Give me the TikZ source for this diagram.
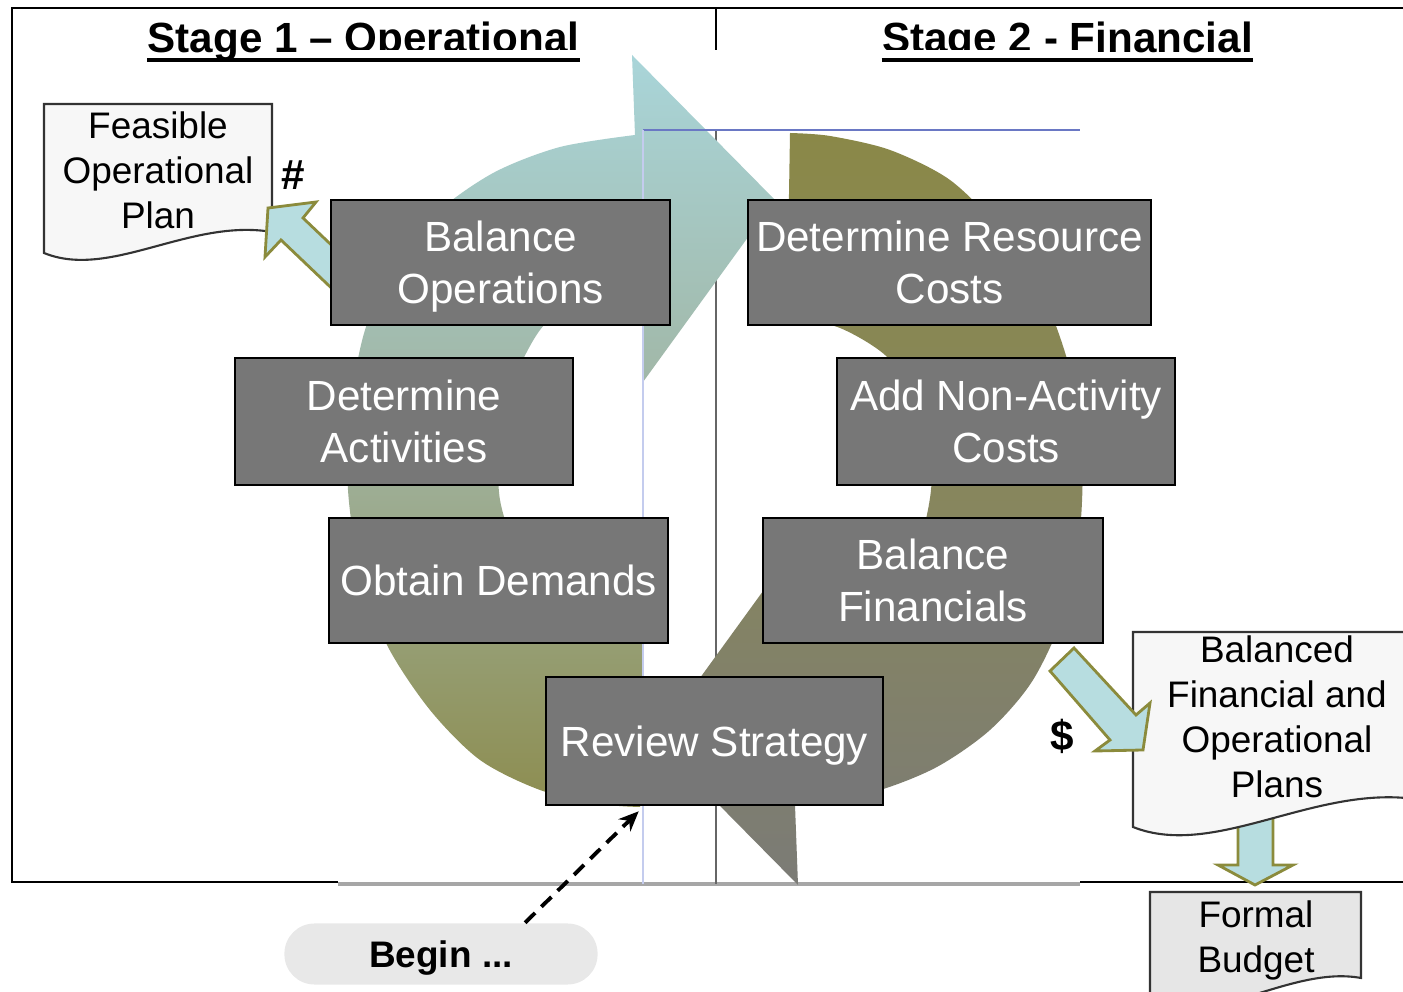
\documentclass[tikz,border=0pt]{standalone}
\usepackage{fontspec}
\setmainfont{Liberation Sans}
\usetikzlibrary{arrows.meta}
\definecolor{task}{HTML}{777777}
\definecolor{plan}{HTML}{F7F7F7}
\definecolor{budget}{HTML}{E6E6E6}
\definecolor{beginbox}{HTML}{E8E8E8}
\definecolor{cyanarc}{HTML}{A9D5D9}
\definecolor{midarc}{HTML}{A0B3A0}
\definecolor{olivearc}{HTML}{8D8D50}
\definecolor{olivetop}{HTML}{8A8848}
\definecolor{olivemid}{HTML}{87865E}
\definecolor{greyarc}{HTML}{7B7B76}
\definecolor{blockarrow}{HTML}{B7DDE0}
\definecolor{blockline}{HTML}{8B8B3C}
\definecolor{picline}{HTML}{6A78C4}
\definecolor{picfaint}{HTML}{C4CCEE}
\tikzset{task/.style={draw=black,line width=0.7pt,fill=task,text=white,align=center,inner sep=0pt,text depth=0pt,minimum height=1.25cm,font=\fontsize{12}{14.8}\selectfont}}
\tikzset{plan/.style={black,align=center,inner sep=0pt,text depth=0pt,font=\fontsize{10.5}{12.8}\selectfont}}
\tikzset{plandoc/.style={draw=black!80,line width=0.6pt,fill=plan}}
\tikzset{blockarrow/.style={draw=blockline,line width=0.8pt,fill=blockarrow}}
\tikzset{stage/.style={anchor=base,inner sep=0pt,font=\fontsize{12}{14}\selectfont\bfseries}}
\tikzset{sign/.style={font=\fontsize{12}{14}\selectfont\bfseries}}
\tikzset{beginbox/.style={fill=beginbox,rounded corners=0.3cm,text depth=0pt,minimum width=3.13cm,minimum height=0.61cm,font=\fontsize{10.5}{12}\selectfont\bfseries}}

\begin{document}
\begin{tikzpicture}[x=0.01cm,y=-0.01cm]
    \useasboundingbox (0,0) rectangle (1403,992);
    \clip (0,0) rectangle (1403,992);

    \draw[line width=0.7pt] (1403,8) -- (12,8) -- (12,882) -- (1403,882);
    \draw[line width=0.7pt] (716,8) -- (716,50);

    \node[stage] (stage1) at (363.5,53) {Stage 1 – Operational};
    \node[stage] (stage2) at (1067.5,53) {Stage 2 - Financial};

    \fill[white] (338,50) rectangle (1080,884);
    \draw[line width=1.2pt, black!35] (338,884) -- (1080,884);
    \draw[line width=0.6pt, black!60] (716,130) -- (716,884);

    \shade[top color=cyanarc, bottom color=olivearc, middle color=midarc]
        (643,382) -- (775,200) -- (632,55) -- (635,135)
        -- plot[smooth] coordinates {(635,135) (560,147) (495,172) (440,210) (397,260) (365,330) (350,410) (348,490) (360,570) (387,645) (430,710) (480,760) (540,790) (600,804) (640,807)}
        -- (643,625)
        -- plot[smooth] coordinates {(643,625) (590,612) (545,585) (515,545) (500,500) (499,450) (510,390) (540,330) (585,290) (643,265)}
        -- cycle;
    \shade[top color=olivetop, bottom color=greyarc, middle color=olivemid]
        (787,558) -- (655,740) -- (798,885) -- (795,805)
        -- plot[smooth] coordinates {(795,805) (870,793) (935,768) (990,730) (1033,680) (1065,610) (1080,530) (1082,450) (1070,370) (1043,295) (1000,230) (950,180) (890,150) (830,136) (790,133)}
        -- (787,315)
        -- plot[smooth] coordinates {(787,315) (840,328) (885,355) (915,395) (930,440) (931,490) (920,540) (895,585) (850,612) (787,622)}
        -- cycle;

    \draw[picline, line width=0.7pt] (643,130) -- (1080,130);
    \draw[picfaint, line width=0.4pt] (643,130) -- (643,884);

    \draw[line width=1pt] ([yshift=-0.07cm]stage1.base west) -- ([yshift=-0.07cm]stage1.base east);
    \draw[line width=1pt] ([yshift=-0.07cm]stage2.base west) -- ([yshift=-0.07cm]stage2.base east);

    \draw[plandoc] (44,104) -- (272,104) -- (272,232) .. controls (190,218) and (110,280) .. (44,253) -- cycle;
    \node[plan] (feasible) at (158,170) {Feasible\\Operational\\Plan};

    \draw[blockarrow] (1238,800) -- (1238,865) -- (1218,865) -- (1255,885) -- (1293,865) -- (1273,865) -- (1273,800) -- cycle;
    \draw[plandoc] (1133,632) -- (1421,632) -- (1421,800) .. controls (1318,782) and (1216,860) .. (1133,827) -- cycle;
    \node[plan] (balanced) at (1277,716.5) {Balanced\\Financial and\\Operational\\Plans};

    \draw[plandoc, fill=budget] (1150,892) -- (1361,892) -- (1361,978) .. controls (1290,965) and (1211,1030) .. (1150,1000) -- cycle;
    \node[plan] (formal) at (1256,936.5) {Formal\\Budget};

    \draw[blockarrow] (268,208) -- (316,202) -- (303,218) -- (345,258) -- (345,301) -- (281,240) -- (265,257) -- cycle;
    \draw[blockarrow] (1074,648) -- (1136,715) -- (1150,703) -- (1143,750) -- (1095,751) -- (1110,740) -- (1050,671) -- cycle;

    \node[task, minimum width=3.39cm] (balops) at (500.5,262.5) {Balance\\Operations};
    \node[task, minimum width=4.03cm] (rescost) at (949.5,262.5) {Determine Resource\\Costs};
    \node[task, minimum width=3.38cm, minimum height=1.27cm] (activities) at (404,421.5) {Determine\\Activities};
    \node[task, minimum width=3.38cm, minimum height=1.27cm] (nonact) at (1006,421.5) {Add Non-Activity\\Costs};
    \node[task, minimum width=3.39cm] (demands) at (498.5,580.5) {Obtain Demands};
    \node[task, minimum width=3.40cm] (balfin) at (933,580.5) {Balance\\Financials};
    \node[task, minimum width=3.37cm, minimum height=1.28cm] (review) at (714.5,741) {Review Strategy};

    \node[sign] (hash) at (293,175) {\#};
    \node[sign] (dollar) at (1062,736) {\$};

    \node[beginbox] (begin) at (441,954) {Begin ...};
    \draw[line width=1.1pt, dash pattern=on 4pt off 2.5pt, -{Stealth[length=0.2cm,width=0.17cm]}] ([xshift=0.84cm]begin.north) -- ([xshift=0.94cm,yshift=-0.05cm]review.south west);
\end{tikzpicture}
\end{document}
